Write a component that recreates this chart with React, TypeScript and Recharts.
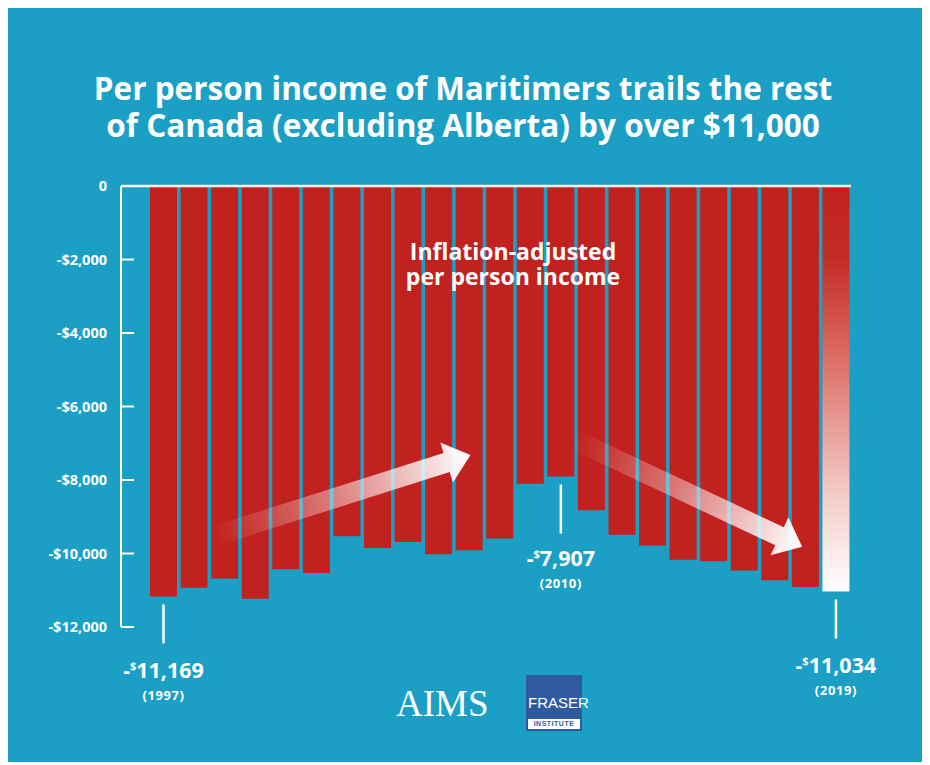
import React from "react"
import { BarChart, Bar, XAxis, YAxis, Cell, ReferenceLine, LabelList } from "recharts"

// Maritimes per person income gap vs rest of Canada (ex. Alberta), inflation adjusted
const years = [
  "1997", "1998", "1999", "2000", "2001", "2002", "2003", "2004", "2005", "2006", "2007", "2008",
  "2009", "2010", "2011", "2012", "2013", "2014", "2015", "2016", "2017", "2018", "2019",
]
const incomeGap = [
  -11169, -10930, -10680, -11230, -10430, -10530, -9530, -9850, -9690, -10020, -9910, -9590,
  -8100, -7907, -8820, -9490, -9780, -10170, -10210, -10460, -10730, -10910, -11034,
]
const yTicks = [0, -2000, -4000, -6000, -8000, -10000, -12000]
const calloutYears = ["1997", "2010", "2019"]

const data = years.map((year, i) => ({ year, gap: incomeGap[i] }))

const BLUE = "#1b9fc4"
const RED = "#c1221f"
const FONT = "'Open Sans', Lato, sans-serif"

const TITLE = "Per person income of Maritimers trails the rest\nof Canada (excluding Alberta) by over $11,000"
const NOTE = "Inflation-adjusted\nper person income"

const formatTick = (v: number) => (v === 0 ? "0" : `-$${Math.abs(v).toLocaleString("en-US")}`)

const YTick = ({ x, y, payload }: any) => (
  <g>
    <line x1={x} x2={x + 13} y1={y} y2={y} stroke="#fff" strokeWidth={2} />
    <text x={x - 14} y={y} dy={5} textAnchor="end" fill="#fff" fontSize={14.5} fontWeight={700} fontFamily={FONT}>
      {formatTick(payload.value)}
    </text>
  </g>
)

const Callout = (props: any) => {
  const { x, y, width, height, value } = props
  if (!calloutYears.includes(value)) return null
  const gap = incomeGap[years.indexOf(value)]
  const cx = x + width / 2
  const bottom = Math.max(y, y + height)
  const isPeak = value === "2010"
  const start = bottom + 8
  const end = start + (isPeak ? 49 : 39)
  return (
    <g>
      <line x1={cx} x2={cx} y1={start} y2={end} stroke="#fff" strokeWidth={2.5} />
      <text x={cx} y={end + (isPeak ? 32 : 35)} textAnchor="middle" fill="#fff" fontFamily={FONT} fontWeight={700}>
        <tspan fontSize={21}>-</tspan>
        <tspan fontSize={11} dy={-8}>$</tspan>
        <tspan fontSize={21.5} dy={8}>{Math.abs(gap).toLocaleString("en-US")}</tspan>
      </text>
      <text x={cx} y={end + (isPeak ? 54 : 57)} textAnchor="middle" fill="#fff" fontFamily={FONT} fontWeight={700} fontSize={13} letterSpacing={0.6}>
        ({value})
      </text>
    </g>
  )
}

const Arrow = ({ x, y, angle, length, id }: any) => (
  <g transform={`translate(${x},${y}) rotate(${angle})`}>
    <polygon
      points={`0,-10 ${length - 25},-10 ${length - 25},-21 ${length},0 ${length - 25},21 ${length - 25},10 0,10`}
      fill={`url(#${id})`}
    />
  </g>
)

export default function App() {
  return (
    <div style={{ position: "relative", width: 916, height: 756, marginTop: -2, background: BLUE, fontFamily: FONT }}>
      {/* title */}
      <div
        style={{
          position: "absolute", left: -3, top: 63, width: 916, textAlign: "center", whiteSpace: "pre-line",
          color: "#fff", fontWeight: 700, fontSize: 31.5, lineHeight: "37px",
        }}
      >
        {TITLE}
      </div>

      <div style={{ position: "absolute", left: 0, top: 0 }}>
        <BarChart width={916} height={756} data={data} margin={{ top: 180, right: 73, bottom: 135, left: 0 }}>
          <defs>
            <linearGradient id="lastBar" x1="0" y1="0" x2="0" y2="1">
              <stop offset="0%" stopColor={RED} />
              <stop offset="18%" stopColor="#c42d27" />
              <stop offset="40%" stopColor="#d9675f" />
              <stop offset="75%" stopColor="#f3c9c4" />
              <stop offset="100%" stopColor="#ffffff" />
            </linearGradient>
          </defs>
          <XAxis dataKey="year" hide padding={{ left: 27, right: 0 }} />
          <YAxis
            domain={[-12000, 0]}
            ticks={yTicks}
            width={113}
            axisLine={{ stroke: "#fff", strokeWidth: 2 }}
            tickLine={false}
            tickSize={0}
            tickMargin={0}
            tick={<YTick />}
          />
          <Bar dataKey="gap" barSize={27} fill={RED} isAnimationActive={false}>
            {data.map((d, i) => (
              <Cell key={d.year} fill={i === data.length - 1 ? "url(#lastBar)" : RED} />
            ))}
            <LabelList dataKey="year" content={<Callout />} />
          </Bar>
          <ReferenceLine y={0} stroke="#f5f5f5" strokeWidth={2.5} />
        </BarChart>
      </div>

      <svg width={916} height={756} style={{ position: "absolute", left: 0, top: 0, pointerEvents: "none" }}>
        <defs>
          <linearGradient id="arrowFade1" x1="0" y1="0" x2="1" y2="0">
            <stop offset="0%" stopColor="#fff" stopOpacity={0} />
            <stop offset="40%" stopColor="#fff" stopOpacity={0.35} />
            <stop offset="100%" stopColor="#fff" stopOpacity={1} />
          </linearGradient>
          <linearGradient id="arrowFade2" x1="0" y1="0" x2="1" y2="0">
            <stop offset="0%" stopColor="#fff" stopOpacity={0} />
            <stop offset="40%" stopColor="#fff" stopOpacity={0.35} />
            <stop offset="100%" stopColor="#fff" stopOpacity={1} />
          </linearGradient>
        </defs>
        <Arrow x={207} y={530} angle={-17.6} length={268} id="arrowFade1" />
        <Arrow x={567} y={434} angle={25.2} length={251} id="arrowFade2" />
      </svg>

      {/* in-chart note */}
      <div
        style={{
          position: "absolute", left: 305, top: 233, width: 400, textAlign: "center", whiteSpace: "pre-line",
          color: "#fff", fontWeight: 700, fontSize: 23, lineHeight: "25px",
        }}
      >
        {NOTE}
      </div>

      {/* logos */}
      <div style={{ position: "absolute", left: 388, top: 680, color: "#fff", fontFamily: "'Liberation Serif', serif", fontSize: 37, lineHeight: "36px" }}>
        AIMS
      </div>
      <div style={{ position: "absolute", left: 518, top: 669, width: 56, border: "2px solid #2f5b9e", boxSizing: "border-box", background: "#fff" }}>
        <div style={{ background: "#2f5b9e", height: 42, color: "#fff", fontFamily: "'Liberation Sans Narrow', 'Liberation Sans', sans-serif", fontSize: 15, textAlign: "center", lineHeight: "52px" }}>
          FRASER
        </div>
        <div style={{ color: "#2f5b9e", fontFamily: "'Liberation Sans', sans-serif", fontWeight: 700, fontSize: 7, textAlign: "center", lineHeight: "10px", letterSpacing: 0.5 }}>
          INSTITUTE
        </div>
      </div>
    </div>
  )
}
